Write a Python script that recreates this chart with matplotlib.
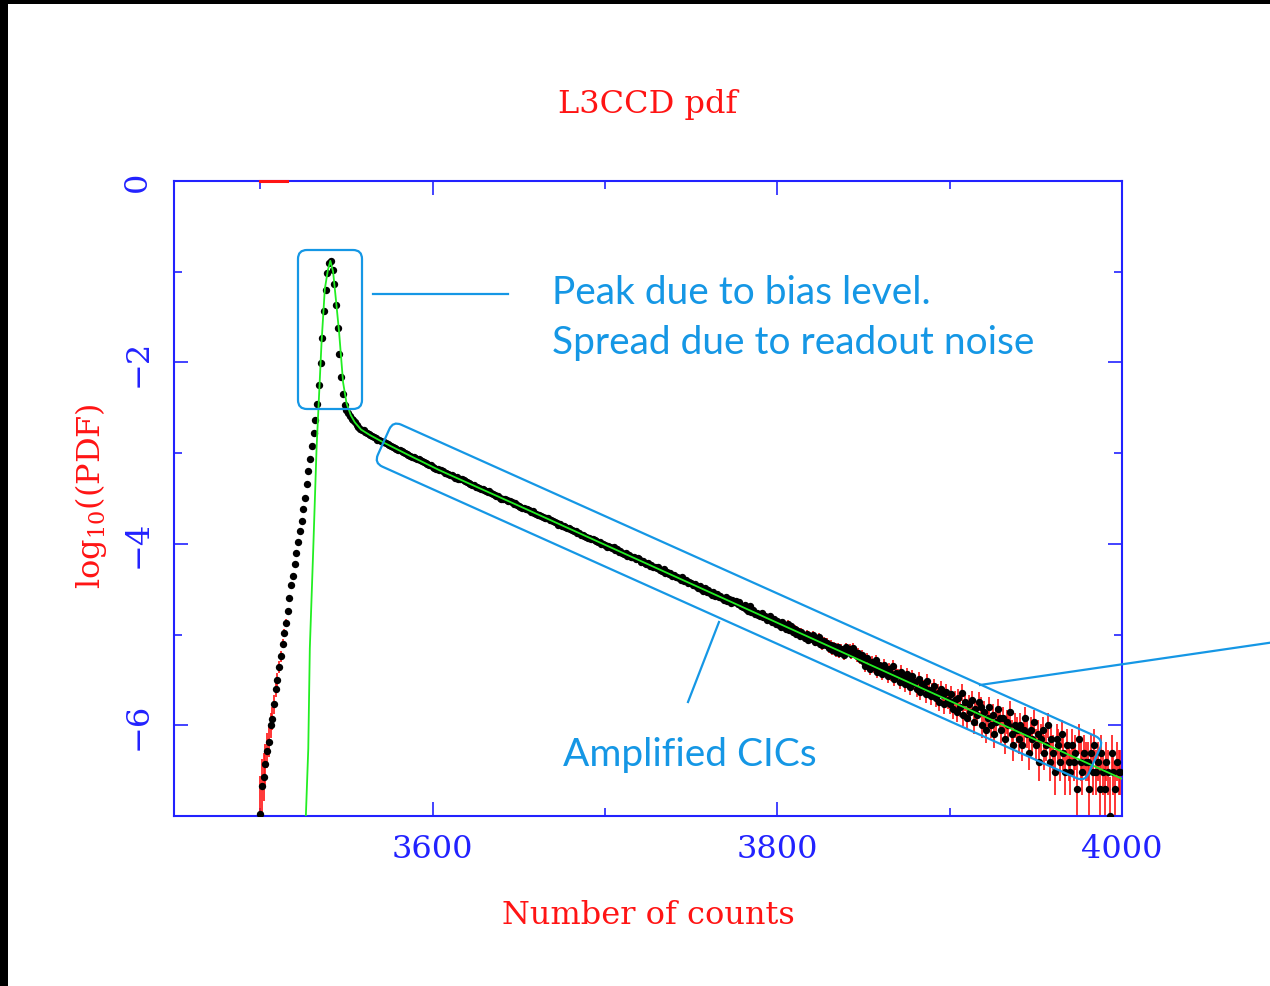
import numpy as np
import matplotlib
matplotlib.use("Agg")
import matplotlib.pyplot as plt
from matplotlib.patches import FancyBboxPatch, Rectangle
from matplotlib.lines import Line2D
import matplotlib.transforms as mtransforms

# ------------------------------------------------------------------ data
bin_start = 3500          # first histogram bin (1 count wide bins)
n_total = 1e7             # total number of pixels (for Poisson error bars)

# log10(PDF) per bin
wing = [-6.98, -6.67, -6.57, -6.43, -6.28, -6.18, -6.00, -5.93, -5.77, -5.60,
        -5.50, -5.36, -5.24, -5.10, -4.98, -4.87, -4.74, -4.60, -4.45, -4.35,
        -4.22, -4.10, -3.98, -3.86, -3.75, -3.62, -3.49, -3.34, -3.20, -3.06,
        -2.92, -2.78]
peak = [-2.64, -2.46, -2.25, -2.01, -1.73, -1.43, -1.20, -1.01, -0.90, -0.88,
        -0.98, -1.13, -1.37, -1.62, -1.91, -2.16, -2.35, -2.47]
shoulder = [-2.52, -2.56, -2.59, -2.62, -2.64, -2.66, -2.69, -2.71, -2.73, -2.74,
            -2.75, -2.77, -2.78, -2.79, -2.80, -2.81, -2.82, -2.83, -2.85, -2.86,
            -2.87, -2.88, -2.88, -2.89, -2.90, -2.91, -2.92, -2.93, -2.94, -2.95,
            -2.96, -2.97, -2.98, -2.99, -3.00, -3.01, -3.02, -3.03, -3.04, -3.04,
            -3.05, -3.06, -3.07, -3.08, -3.09, -3.10, -3.11, -3.12, -3.13, -3.13]
tail_a = [-3.15, -3.16, -3.17, -3.17, -3.19, -3.19, -3.20, -3.22, -3.22, -3.23,
          -3.24, -3.24, -3.25, -3.27, -3.26, -3.28, -3.29, -3.29, -3.30, -3.31,
          -3.32, -3.33, -3.34, -3.35, -3.35, -3.37, -3.37, -3.38, -3.40, -3.39,
          -3.41, -3.42, -3.43, -3.42, -3.44, -3.45, -3.46, -3.47, -3.47, -3.49,
          -3.50, -3.50, -3.51, -3.52, -3.53, -3.53, -3.54, -3.56, -3.55, -3.57,
          -3.58, -3.59, -3.60, -3.60, -3.62, -3.62, -3.63, -3.65, -3.64, -3.66,
          -3.67, -3.68, -3.68, -3.69, -3.70, -3.71, -3.72, -3.72, -3.74, -3.74,
          -3.75, -3.76, -3.77, -3.79, -3.78, -3.80, -3.80, -3.81, -3.83, -3.82,
          -3.84, -3.85, -3.86, -3.86, -3.88, -3.88, -3.90, -3.90, -3.91, -3.92,
          -3.93, -3.93, -3.95, -3.95, -3.96, -3.97, -3.98, -3.98, -4.00, -4.00]
tail_b = [-4.01, -4.03, -4.02, -4.04, -4.05, -4.04, -4.07, -4.06, -4.09, -4.08,
          -4.10, -4.11, -4.10, -4.13, -4.12, -4.14, -4.15, -4.14, -4.17, -4.16,
          -4.17, -4.20, -4.19, -4.21, -4.22, -4.21, -4.24, -4.23, -4.26, -4.25,
          -4.27, -4.26, -4.29, -4.30, -4.28, -4.32, -4.31, -4.33, -4.32, -4.35,
          -4.34, -4.37, -4.36, -4.38, -4.40, -4.37, -4.41, -4.40, -4.43, -4.42,
          -4.43, -4.45, -4.44, -4.47, -4.49, -4.46, -4.50, -4.52, -4.49, -4.53,
          -4.51, -4.54, -4.56, -4.53, -4.57, -4.55, -4.59, -4.58, -4.60, -4.62,
          -4.59, -4.63, -4.61, -4.65, -4.62, -4.64, -4.63, -4.66, -4.64, -4.69,
          -4.70, -4.67, -4.72, -4.74, -4.69, -4.75, -4.73, -4.77, -4.76, -4.78,
          -4.80, -4.76, -4.81, -4.79, -4.84, -4.82, -4.80, -4.86, -4.83, -4.88]
tail_c = [-4.85, -4.89, -4.92, -4.86, -4.90, -4.94, -4.88, -4.95, -4.91, -4.97,
          -4.94, -4.99, -4.96, -5.02, -4.97, -5.01, -5.04, -4.99, -5.06, -5.02,
          -5.05, -5.01, -5.08, -5.06, -5.03, -5.10, -5.12, -5.07, -5.11, -5.09,
          -5.15, -5.11, -5.17, -5.13, -5.19, -5.14, -5.20, -5.16, -5.18, -5.22,
          -5.14, -5.18, -5.16, -5.21, -5.15, -5.19, -5.24, -5.20, -5.27, -5.23,
          -5.29, -5.35, -5.26, -5.33, -5.38, -5.30, -5.36, -5.28, -5.41, -5.34,
          -5.37, -5.43, -5.33, -5.40, -5.46, -5.38, -5.44, -5.35, -5.49, -5.42,
          -5.45, -5.52, -5.41, -5.48, -5.55, -5.44, -5.50, -5.58, -5.46, -5.53,
          -5.52, -5.60, -5.49, -5.63, -5.55, -5.58, -5.66, -5.51, -5.61, -5.68,
          -5.62, -5.57, -5.70, -5.64, -5.74, -5.60, -5.67, -5.77, -5.63, -5.72]
tail_d = [-5.77, -5.66, -5.82, -5.72, -5.85, -5.70, -5.80, -5.64, -5.89, -5.74,
          -5.92, -5.77, -5.85, -5.72, -5.96, -5.82, -5.89, -5.74, -5.80, -6.00,
          -5.85, -6.05, -5.92, -5.80, -6.00, -5.89, -6.10, -5.96, -5.82, -5.92,
          -6.05, -5.92, -6.15, -5.96, -6.00, -5.85, -6.10, -6.22, -6.00, -6.05,
          -6.15, -6.00, -6.22, -6.05, -5.92, -6.10, -6.30, -6.05, -6.15, -5.96,
          -6.22, -6.10, -6.40, -6.15, -6.05, -6.30, -6.22, -6.00, -6.40, -6.15,
          -6.30, -6.52, -6.15, -6.22, -6.40, -6.10, -6.30, -6.52, -6.22, -6.40,
          -6.52, -6.22, -6.40, -6.30, -6.70, -6.15, -6.40, -6.52, -6.30, -6.40,
          -6.40, -6.70, -6.30, -6.52, -6.22, -6.52, -6.40, -6.70, -6.30, -6.52,
          -6.70, -6.40, -6.52, -7.00, -6.30, -6.52, -6.70, -6.40, -6.52, -6.52]

# fitted model curve (green)
model_x = [3526.5, 3527.9, 3528.8, 3530.8, 3532.7, 3535.6, 3537.5, 3539.3,
           3540.7, 3542.3, 3544.0, 3545.8, 3548.1, 3550.1, 3552.5, 3554.9,
           3558.5, 3563.6, 3571.3, 3584.9, 3604.2, 3650.0, 3700.0, 3800.0,
           3900.0, 4000.0]
model_y = [-7.00, -6.26, -5.15, -4.05, -2.95, -1.78, -1.19, -0.98,
           -0.88, -1.00, -1.32, -1.67, -2.22, -2.45, -2.58, -2.66,
           -2.74, -2.80, -2.88, -3.01, -3.19, -3.58, -4.01, -4.87,
           -5.73, -6.59]

top_red_span = [3500, 3515.5]

x_major = [3600, 3800, 4000]
x_minor = [3500, 3700, 3900]
y_major = [0, -2, -4, -6]
y_minor = [-1, -3, -5]
x_range = (3450, 4000)
y_range = (-7, 0)

title_text = "L3CCD pdf"
xlabel_text = "Number of counts"
ylabel_text = r"log$_{10}$((PDF)"
note_peak = ["Peak due to bias level.", "Spread due to readout noise"]
note_cic = "Amplified CICs"

# ------------------------------------------------------------------ style
W, H = 1270, 987
plt.rcParams['font.family'] = ['DejaVu Serif']
plt.rcParams['mathtext.fontset'] = 'dejavuserif'
BLUE = '#2222ff'
RED = '#ff1414'
GREEN = '#22ee22'
ANN = '#1597e5'
FS = 23

fig = plt.figure(figsize=(W / 100, H / 100), dpi=100)
fig.patch.set_facecolor('white')
ax = fig.add_axes([174 / W, 1 - 817 / H, (1122 - 174) / W, (817 - 182) / H])

logpdf = np.array(wing + peak + shoulder + tail_a + tail_b + tail_c + tail_d)
xbins = bin_start + np.arange(len(logpdf))
counts = n_total * 10.0 ** logpdf
yerr = 1.0 / (np.log(10) * np.sqrt(counts))

ax.errorbar(xbins, logpdf, yerr=yerr, fmt='none', ecolor=RED,
            elinewidth=1.2, capsize=0, zorder=2)
ax.plot(xbins, logpdf, 'o', color='black', ms=5.3, mew=0, zorder=3)
ax.plot(model_x, model_y, '-', color=GREEN, lw=1.3, zorder=4)
ax.plot(top_red_span, [y_range[1]] * 2, color=RED, lw=2.2, zorder=6,
        clip_on=False)

ax.set_xlim(*x_range)
ax.set_ylim(*y_range)
ax.set_xticks(x_major)
ax.set_xticks(x_minor, minor=True)
ax.set_yticks(y_major)
ax.set_yticks(y_minor, minor=True)
ax.set_xticklabels([str(v) for v in x_major])
ax.set_yticklabels([("\u2212" + str(-v)) if v < 0 else str(v) for v in y_major])

for sp in ax.spines.values():
    sp.set_color(BLUE)
    sp.set_linewidth(1.5)
ax.tick_params(which='both', direction='in', top=True, right=True,
               color=BLUE, width=1.2, labelcolor=BLUE, labelsize=FS)
ax.tick_params(which='major', length=10)
ax.tick_params(which='minor', length=6)
ax.tick_params(axis='x', pad=12)
ax.tick_params(axis='y', pad=15, labelrotation=90)
for lab in ax.get_yticklabels():
    lab.set_va('center')

ax.set_title(title_text, color=RED, fontsize=FS, y=(817 - 113) / 635, pad=0,
             va='baseline')
ax.set_xlabel(xlabel_text, color=RED, fontsize=FS)
ax.xaxis.set_label_coords(0.5, (817 - 900) / 635)
ax.set_ylabel(ylabel_text, color=RED, fontsize=FS)
ax.yaxis.set_label_coords((109 - 174) / 948, (817 - 496) / 635)

# ------------------------------------------------------------------ annotations (pixel coords, y down)
PIX = mtransforms.Affine2D().scale(1, -1).translate(0, H)

fig.text(552, 304, note_peak[0], transform=PIX, color=ANN, fontsize=28,
         family=['Lato', 'DejaVu Sans'], va='baseline', ha='left')
fig.text(552, 354, note_peak[1], transform=PIX, color=ANN, fontsize=28,
         family=['Lato', 'DejaVu Sans'], va='baseline', ha='left')
fig.text(563, 766, note_cic, transform=PIX, color=ANN, fontsize=28,
         family=['Lato', 'DejaVu Sans'], va='baseline', ha='left')

box1 = FancyBboxPatch((298, 251), 64, 159,
                      boxstyle="round,pad=0,rounding_size=9",
                      fill=False, ec=ANN, lw=1.6, transform=PIX)
fig.add_artist(box1)

ang = np.degrees(np.arctan2(319, 711))
rot = mtransforms.Affine2D().rotate_deg(ang).translate(393, 422)
box2 = FancyBboxPatch((0, 0), 779, 46,
                      boxstyle="round,pad=0,rounding_size=9",
                      fill=False, ec=ANN, lw=1.6, transform=rot + PIX)
fig.add_artist(box2)

for (x0, y0), (x1, y1) in [((373, 295), (508, 295)),
                           ((719, 623), (688, 703)),
                           ((980, 686), (1275, 643))]:
    fig.add_artist(Line2D([x0, x1], [y0, y1], color=ANN, lw=1.6,
                          transform=PIX))

# black frame remnants at top and left edges
fig.add_artist(Rectangle((0, 0), W, 5, color='black', transform=PIX, lw=0))
fig.add_artist(Rectangle((0, 0), 8, H, color='black', transform=PIX, lw=0))

fig.savefig('out.png', dpi=100)
